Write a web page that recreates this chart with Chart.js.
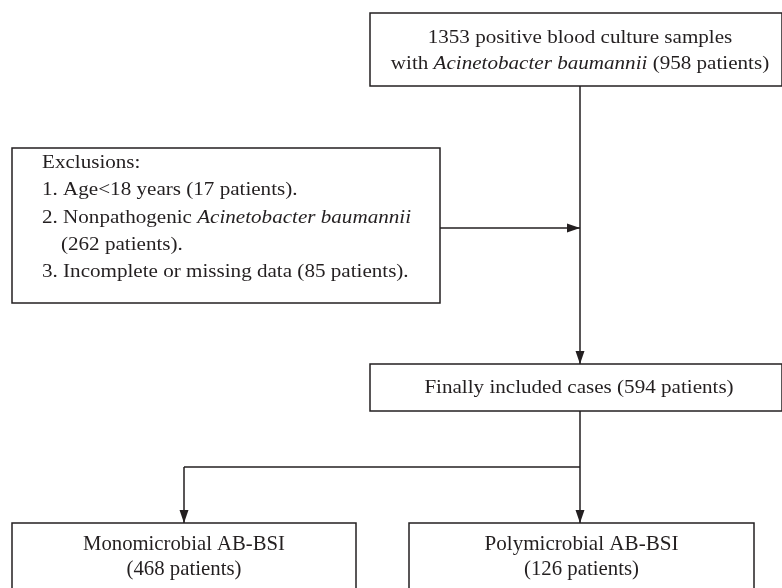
<!DOCTYPE html>
<html>
<head>
<meta charset="utf-8">
<script src="https://cdn.jsdelivr.net/npm/chart.js@4/dist/chart.umd.min.js"></script>
<style>
  html, body { margin: 0; padding: 0; background: #fff; }
  #flow { display: block; }
</style>
</head>
<body>
<canvas id="flow" width="782" height="588"></canvas>
<script>
// data of the flow diagram
const totalSamples = 1353;
const totalPatients = 958;
const species = "Acinetobacter baumannii";
const exclusionLabels = ["Age<18 years", "Nonpathogenic", "Incomplete or missing data"];
const exclusionPatients = [17, 262, 85];
const includedPatients = 594;
const groupLabels = ["Monomicrobial AB-BSI", "Polymicrobial AB-BSI"];
const groupPatients = [468, 126];

// layout (page units, y downward)
const boxes = {
  top:   { x0: 370, x1: 782, y0: 13,  y1: 86 },
  excl:  { x0: 12,  x1: 440, y0: 148, y1: 303 },
  incl:  { x0: 370, x1: 782, y0: 364, y1: 411 },
  mono:  { x0: 12,  x1: 356, y0: 523, y1: 600 },
  poly:  { x0: 409, x1: 754, y0: 523, y1: 600 }
};
const mainX = 580, branchY = 467, exclY = 228;
const INK = "#231f20";
const SERIF = "'Liberation Serif', 'DejaVu Serif', serif";

// connectors as line datasets, [from, to]
const connectors = [
  { pts: [[mainX, 86], [mainX, 364]], arrow: true },
  { pts: [[440, exclY], [mainX, exclY]], arrow: true },
  { pts: [[mainX, 411], [mainX, branchY]], arrow: false },
  { pts: [[184, branchY], [mainX, branchY]], arrow: false },
  { pts: [[184, branchY], [184, 523]], arrow: true },
  { pts: [[mainX, branchY], [mainX, 523]], arrow: true }
];

function px(chart, x, y) {
  return [chart.scales.x.getPixelForValue(x), chart.scales.y.getPixelForValue(y)];
}

// draws mixed roman/italic runs, stretched horizontally by sx
function drawRich(ctx, parts, x, y, align, size, sx) {
  let total = 0;
  parts.forEach(p => {
    ctx.font = (p[1] ? "italic " : "") + size + "px " + SERIF;
    total += ctx.measureText(p[0]).width;
  });
  ctx.save();
  ctx.translate(x, y);
  ctx.scale(sx, 1);
  let cx = align === "center" ? -total / 2 : 0;
  ctx.textAlign = "left";
  parts.forEach(p => {
    ctx.font = (p[1] ? "italic " : "") + size + "px " + SERIF;
    ctx.fillText(p[0], cx, 0);
    cx += ctx.measureText(p[0]).width;
  });
  ctx.restore();
}

const flowPlugin = {
  id: "flow",
  afterDatasetsDraw(chart) {
    const ctx = chart.ctx;
    ctx.save();
    ctx.strokeStyle = INK;
    ctx.fillStyle = INK;
    ctx.lineWidth = 1.5;
    // boxes
    Object.values(boxes).forEach(b => {
      const [a, c] = px(chart, b.x0, b.y0);
      const [d, e] = px(chart, b.x1, b.y1);
      ctx.strokeRect(a, c, d - a, e - c);
    });
    // arrow heads
    connectors.filter(c => c.arrow).forEach(c => {
      const [x0, y0] = px(chart, c.pts[0][0], c.pts[0][1]);
      const [x1, y1] = px(chart, c.pts[1][0], c.pts[1][1]);
      const ang = Math.atan2(y1 - y0, x1 - x0);
      const L = 13, W = 4.5;
      ctx.beginPath();
      ctx.moveTo(x1, y1);
      ctx.lineTo(x1 - L * Math.cos(ang) + W * Math.sin(ang), y1 - L * Math.sin(ang) - W * Math.cos(ang));
      ctx.lineTo(x1 - L * Math.cos(ang) - W * Math.sin(ang), y1 - L * Math.sin(ang) + W * Math.cos(ang));
      ctx.closePath();
      ctx.fill();
    });
    // texts
    ctx.textBaseline = "middle";
    const size = 19, sx = 1.11;
    let [tx, ty] = px(chart, mainX, 38);
    drawRich(ctx, [[totalSamples + " positive blood culture samples", false]], tx, ty, "center", size, sx);
    [tx, ty] = px(chart, mainX, 64);
    drawRich(ctx, [["with ", false], [species, true], [" (" + totalPatients + " patients)", false]], tx, ty, "center", size, sx);

    const exLines = [
      [["Exclusions:", false]],
      [["1. " + exclusionLabels[0] + " (" + exclusionPatients[0] + " patients).", false]],
      [["2. " + exclusionLabels[1] + " ", false], [species, true]],
      [["(" + exclusionPatients[1] + " patients).", false]],
      [["3. " + exclusionLabels[2] + " (" + exclusionPatients[2] + " patients).", false]]
    ];
    exLines.forEach((l, i) => {
      const [lx, ly] = px(chart, i === 3 ? 61 : 42, 163 + i * 27.3);
      drawRich(ctx, l, lx, ly, "left", size, sx);
    });

    [tx, ty] = px(chart, 579, 388);
    drawRich(ctx, [["Finally included cases (" + includedPatients + " patients)", false]], tx, ty, "center", size, sx);

    // bottom boxes use a taller, condensed face
    ctx.textAlign = "center";
    ctx.font = "22px " + SERIF;
    [boxes.mono, boxes.poly].forEach((b, i) => {
      const cxv = (b.x0 + b.x1) / 2;
      let [bx, by] = px(chart, cxv, 544);
      ctx.fillText(groupLabels[i], bx, by, i === 0 ? 202 : 194);
      [bx, by] = px(chart, cxv, 569);
      ctx.fillText("(" + groupPatients[i] + " patients)", bx, by, 115);
    });
    ctx.restore();
  }
};

new Chart(document.getElementById("flow"), {
  type: "scatter",
  data: {
    datasets: connectors.map(c => ({
      data: c.pts.map(p => ({ x: p[0], y: p[1] })),
      showLine: true,
      borderColor: INK,
      borderWidth: 1.5,
      pointRadius: 0,
      fill: false
    }))
  },
  options: {
    responsive: false,
    animation: false,
    devicePixelRatio: 1,
    layout: { padding: 0 },
    plugins: { legend: { display: false }, tooltip: { enabled: false } },
    scales: {
      x: { type: "linear", min: 0, max: 782, display: false },
      y: { type: "linear", min: 0, max: 588, reverse: true, display: false }
    }
  },
  plugins: [flowPlugin]
});
</script>
</body>
</html>
